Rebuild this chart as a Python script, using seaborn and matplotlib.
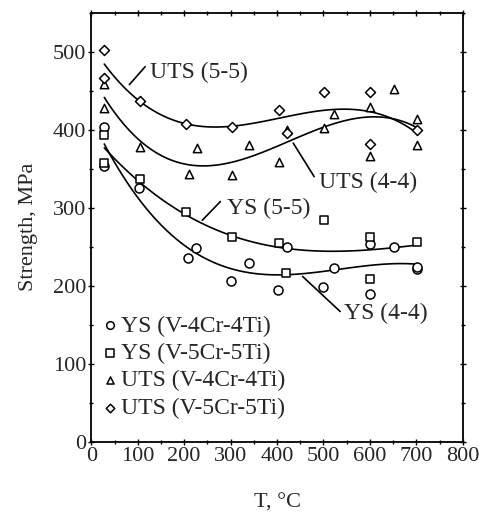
import matplotlib
matplotlib.use("Agg")
import matplotlib.pyplot as plt
import numpy as np
import pandas as pd
import seaborn as sns
from matplotlib.ticker import MultipleLocator

# values
ys44_T = [28, 28, 102, 208, 226, 300, 340, 403, 421, 500, 522, 600, 600, 652, 702, 702]
ys44_S = [404, 354, 325, 236, 248, 206, 229, 195, 250, 199, 223, 189, 253, 250, 222, 224]

ys55_T = [28, 28, 104, 204, 302, 404, 420, 502, 600, 600, 701]
ys55_S = [393, 358, 337, 294, 262, 255, 217, 284, 263, 209, 256]

uts44_T = [28, 28, 104, 210, 228, 302, 340, 404, 421, 502, 522, 600, 600, 652, 702, 702]
uts44_S = [459, 428, 378, 344, 377, 342, 380, 359, 400, 402, 420, 429, 366, 452, 414, 380]

uts55_T = [28, 28, 104, 204, 303, 404, 421, 502, 600, 600, 702]
uts55_S = [502, 467, 437, 407, 404, 426, 396, 448, 448, 382, 400]

labels = ["YS (V-4Cr-4Ti)", "YS (V-5Cr-5Ti)", "UTS (V-4Cr-4Ti)", "UTS (V-5Cr-5Ti)"]
markers = ["o", "s", "^", "D"]
msizes = [42, 40, 36, 26]

sns.set_style("ticks")
plt.rcParams["font.family"] = ["Liberation Serif", "DejaVu Serif"]

fig = plt.figure(figsize=(4.79, 5.16), dpi=100)
ax = fig.add_axes([0.1906, 0.144, 0.7754, 0.831])

sets = [(ys44_T, ys44_S), (ys55_T, ys55_S), (uts44_T, uts44_S), (uts55_T, uts55_S)]
for (t, s), lab, m, ms in zip(sets, labels, markers, msizes):
    df = pd.DataFrame({"T": t, "S": s})
    sns.scatterplot(data=df, x="T", y="S", marker=m, s=ms, facecolor="white",
                    edgecolor="black", linewidth=1.1, ax=ax, label=lab, zorder=3)
    sns.regplot(data=df, x="T", y="S", order=3, ci=None, scatter=False,
                truncate=True, color="black", line_kws={"lw": 1.2}, ax=ax)

ax.set_xlim(0, 800)
ax.set_ylim(0, 550)
ax.xaxis.set_major_locator(MultipleLocator(100))
ax.xaxis.set_minor_locator(MultipleLocator(50))
ax.yaxis.set_major_locator(MultipleLocator(100))
ax.yaxis.set_minor_locator(MultipleLocator(50))
ax.tick_params(which="both", direction="inout", top=True, right=True,
               labeltop=False, labelright=False, width=1, color="black")
ax.tick_params(which="major", length=5, labelsize=16, pad=1)
ax.tick_params(which="minor", length=3)
for sp in ax.spines.values():
    sp.set_linewidth(1.3)
    sp.set_color("black")

ax.set_xlabel("T, °C", fontsize=16, labelpad=20)
ax.set_ylabel("Strength, MPa", fontsize=16, labelpad=11)

fs = 17
ax.text(127, 474, "UTS (5-5)", fontsize=fs, va="center", ha="left")
ax.plot([82, 116], [458, 481], color="black", lw=1.2)
ax.text(491, 332, "UTS (4-4)", fontsize=fs, va="center", ha="left")
ax.plot([435, 480], [383, 340], color="black", lw=1.2)
ax.text(293, 299, "YS (5-5)", fontsize=fs, va="center", ha="left")
ax.plot([239, 278], [284, 308], color="black", lw=1.2)
ax.text(545, 165, "YS (4-4)", fontsize=fs, va="center", ha="left")
ax.plot([455, 536], [212, 167], color="black", lw=1.2)

leg = ax.legend(loc="lower left", bbox_to_anchor=(0.0, 0.02), frameon=False,
                fontsize=fs, handlelength=0.4, handletextpad=0.25,
                labelspacing=0.25, borderaxespad=0.2, markerscale=0.85)

fig.savefig("out.png", dpi=100)
